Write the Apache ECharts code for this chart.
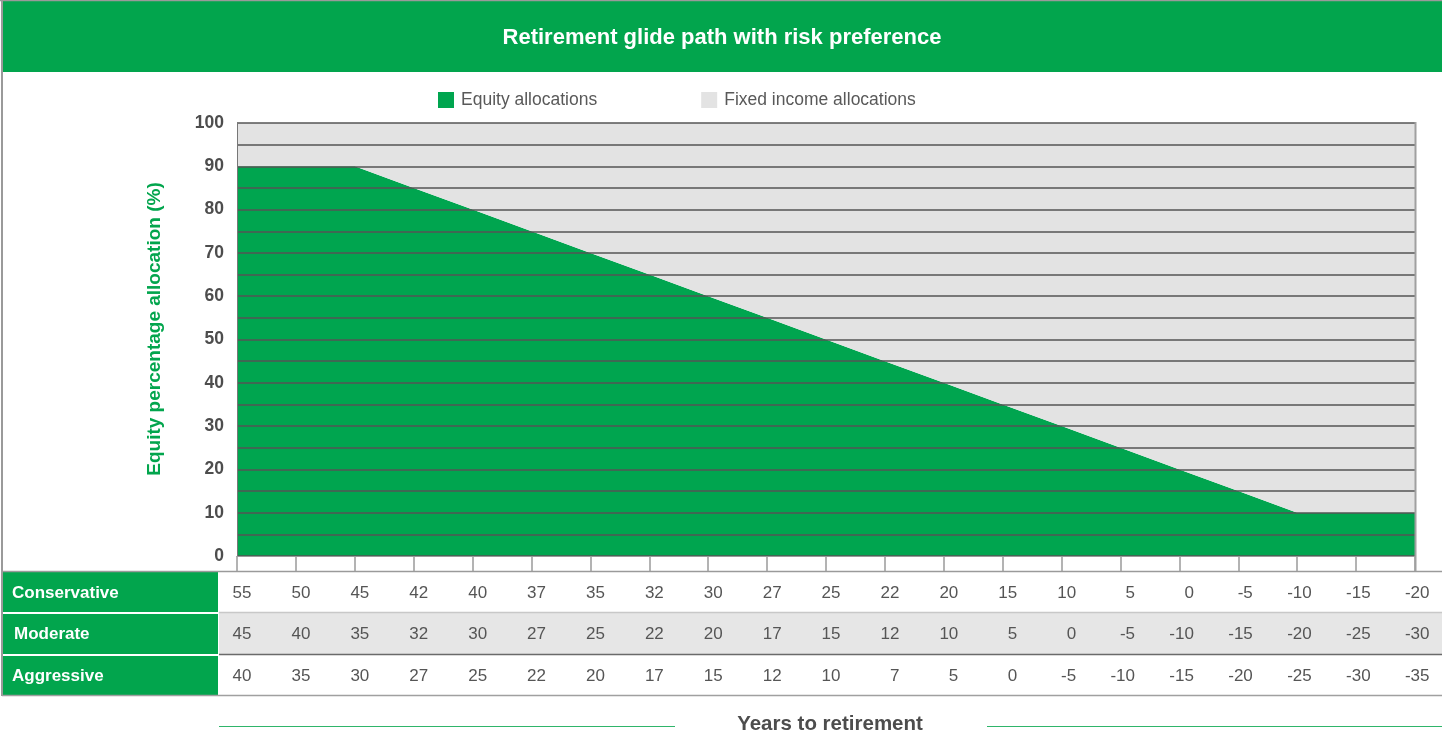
<!DOCTYPE html>
<html>
<head>
<meta charset="utf-8">
<title>Retirement glide path with risk preference</title>
<script src="https://cdn.jsdelivr.net/npm/echarts@6/dist/echarts.min.js"></script>
<style>
  html, body { margin: 0; padding: 0; background: #ffffff; }
  #chart { width: 1442px; height: 736px; }
</style>
</head>
<body>
<div id="chart"></div>
<script>
// Years to retirement for each risk profile (one entry per column)
const conservativeYears = ['55','50','45','42','40','37','35','32','30','27','25','22','20','15','10','5','0','-5','-10','-15','-20'];
const moderateYears     = ['45','40','35','32','30','27','25','22','20','17','15','12','10','5','0','-5','-10','-15','-20','-25','-30'];
const aggressiveYears   = ['40','35','30','27','25','22','20','17','15','12','10','7','5','0','-5','-10','-15','-20','-25','-30','-35'];

// Allocation split (%) at each column
const equityAlloc      = [90, 90, 90, 85, 80, 75, 70, 65, 60, 55, 50, 45, 40, 35, 30, 25, 20, 15, 10, 10, 10];
const fixedIncomeAlloc = [10, 10, 10, 15, 20, 25, 30, 35, 40, 45, 50, 55, 60, 65, 70, 75, 80, 85, 90, 90, 90];

const profileNames = ['Conservative', 'Moderate', 'Aggressive'];

const GREEN = '#02A54D';
const GREY_FILL = '#E3E3E3';
const FONT = '"Liberation Sans", Arial, sans-serif';

const chart = echarts.init(document.getElementById('chart'), null, { renderer: 'canvas' });

const rowLabel = (txt, x, y) => ({
  type: 'text', x: x, y: y, z: 10,
  style: { text: txt, fill: '#ffffff', font: 'bold 17px ' + FONT, textVerticalAlign: 'middle' }
});

// table cell text: right-aligned inside a fixed-width box centred on the column
const valueLabel = margin => ({
  interval: 0, margin: margin, verticalAlign: 'middle', align: 'center',
  formatter: v => '{v|' + v + '}',
  rich: { v: { width: 29, align: 'right', fontFamily: FONT, fontSize: 17, color: '#555555' } }
});

const option = {
  animation: false,
  backgroundColor: '#ffffff',
  textStyle: { fontFamily: FONT },
  grid: { left: 237, top: 123, width: 1178, height: 433, containLabel: false },
  legend: {
    left: 433, top: 86,
    itemWidth: 16, itemHeight: 16, itemGap: 104,
    icon: 'rect',
    textStyle: { fontFamily: FONT, fontSize: 17.5, color: '#595959', padding: [0, 0, 0, 2] },
    data: ['Equity allocations', 'Fixed income allocations']
  },
  xAxis: [
    {
      type: 'category', data: conservativeYears, boundaryGap: false, position: 'bottom', z: 5,
      axisLine: { show: true, lineStyle: { color: '#999999', width: 1 } },
      axisTick: { show: true, length: 15, alignWithLabel: true, interval: 0, lineStyle: { color: '#9a9a9a', width: 1.5 } },
      axisLabel: valueLabel(37),
      splitLine: { show: false }
    },
    {
      type: 'category', data: moderateYears, boundaryGap: false, position: 'bottom', offset: 0, z: 5,
      axisLine: { show: false }, axisTick: { show: false },
      axisLabel: valueLabel(78),
      splitLine: { show: false }
    },
    {
      type: 'category', data: aggressiveYears, boundaryGap: false, position: 'bottom', offset: 0, z: 5,
      axisLine: { show: false }, axisTick: { show: false },
      axisLabel: valueLabel(120),
      splitLine: { show: false }
    }
  ],
  yAxis: {
    type: 'value', min: 0, max: 100, interval: 5, z: 5,
    axisLine: { show: true, lineStyle: { color: '#777777', width: 1 } },
    axisTick: { show: false },
    axisLabel: {
      margin: 13, fontFamily: FONT, fontSize: 17.5, fontWeight: 'bold', color: '#4D4D4D',
      formatter: v => (v % 10 === 0 ? String(v) : '')
    },
    splitLine: { show: true, lineStyle: { color: '#555555', width: 1.5 } }
  },
  series: [
    {
      name: 'Equity allocations', type: 'line', stack: 'alloc', xAxisIndex: 0,
      data: equityAlloc, symbol: 'none', smooth: false,
      lineStyle: { width: 0 }, itemStyle: { color: '#00A54F' },
      areaStyle: { color: '#00A54F', opacity: 1 }
    },
    {
      name: 'Fixed income allocations', type: 'line', stack: 'alloc', xAxisIndex: 0,
      data: fixedIncomeAlloc, symbol: 'none', smooth: false,
      lineStyle: { width: 0 }, itemStyle: { color: GREY_FILL },
      areaStyle: { color: GREY_FILL, opacity: 1 }
    }
  ],
  graphic: [
    // title banner and outer frame
    { type: 'rect', shape: { x: 2, y: 1, width: 1440, height: 71 }, style: { fill: GREEN }, z: -5 },
    { type: 'line', shape: { x1: 0, y1: 0.5, x2: 1442, y2: 0.5 }, style: { stroke: '#9a9a9a', lineWidth: 1.5 }, z: 6 },
    { type: 'line', shape: { x1: 2, y1: 0, x2: 2, y2: 696 }, style: { stroke: '#9a9a9a', lineWidth: 2 }, z: 6 },
    {
      type: 'text', x: 722, y: 38, z: 10,
      style: { text: 'Retirement glide path with risk preference', fill: '#ffffff',
               font: 'bold 22px ' + FONT, textAlign: 'center', textVerticalAlign: 'middle' }
    },
    // vertical axis caption
    {
      type: 'text', x: 155, y: 329, rotation: Math.PI / 2, z: 10,
      style: { text: 'Equity percentage allocation (%)', fill: GREEN,
               font: 'bold 19px ' + FONT, textAlign: 'center', textVerticalAlign: 'middle' }
    },
    // right edge of the plot
    { type: 'line', shape: { x1: 1415.5, y1: 122, x2: 1415.5, y2: 571 }, style: { stroke: '#a0a0a0', lineWidth: 2 }, z: 6 },
    // table frame
    { type: 'line', shape: { x1: 2, y1: 571.5, x2: 1442, y2: 571.5 }, style: { stroke: '#9a9a9a', lineWidth: 1.5 }, z: 6 },
    { type: 'rect', shape: { x: 3, y: 572, width: 215, height: 40 }, style: { fill: GREEN }, z: -5 },
    { type: 'rect', shape: { x: 3, y: 614, width: 215, height: 40 }, style: { fill: GREEN }, z: -5 },
    { type: 'rect', shape: { x: 3, y: 656, width: 215, height: 39 }, style: { fill: GREEN }, z: -5 },
    { type: 'rect', shape: { x: 219, y: 613, width: 1223, height: 41 }, style: { fill: '#E6E6E6' }, z: -5 },
    { type: 'line', shape: { x1: 219, y1: 612.5, x2: 1442, y2: 612.5 }, style: { stroke: '#c8c8c8', lineWidth: 1.5 }, z: 6 },
    { type: 'line', shape: { x1: 219, y1: 654.5, x2: 1442, y2: 654.5 }, style: { stroke: '#6a6a6a', lineWidth: 1.5 }, z: 6 },
    { type: 'line', shape: { x1: 2, y1: 695.5, x2: 1442, y2: 695.5 }, style: { stroke: '#a0a0a0', lineWidth: 1.5 }, z: 6 },
    rowLabel(profileNames[0], 12, 593),
    rowLabel(profileNames[1], 14, 634),
    rowLabel(profileNames[2], 12, 676),
    // horizontal axis caption with rules either side
    { type: 'line', shape: { x1: 219, y1: 726.5, x2: 675, y2: 726.5 }, style: { stroke: '#2fb56a', lineWidth: 1 }, z: 6 },
    { type: 'line', shape: { x1: 987, y1: 726.5, x2: 1442, y2: 726.5 }, style: { stroke: '#2fb56a', lineWidth: 1 }, z: 6 },
    {
      type: 'text', x: 830, y: 724, z: 10,
      style: { text: 'Years to retirement', fill: '#4D4D4D',
               font: 'bold 20.5px ' + FONT, textAlign: 'center', textVerticalAlign: 'middle' }
    }
  ]
};

chart.setOption(option);
</script>
</body>
</html>
